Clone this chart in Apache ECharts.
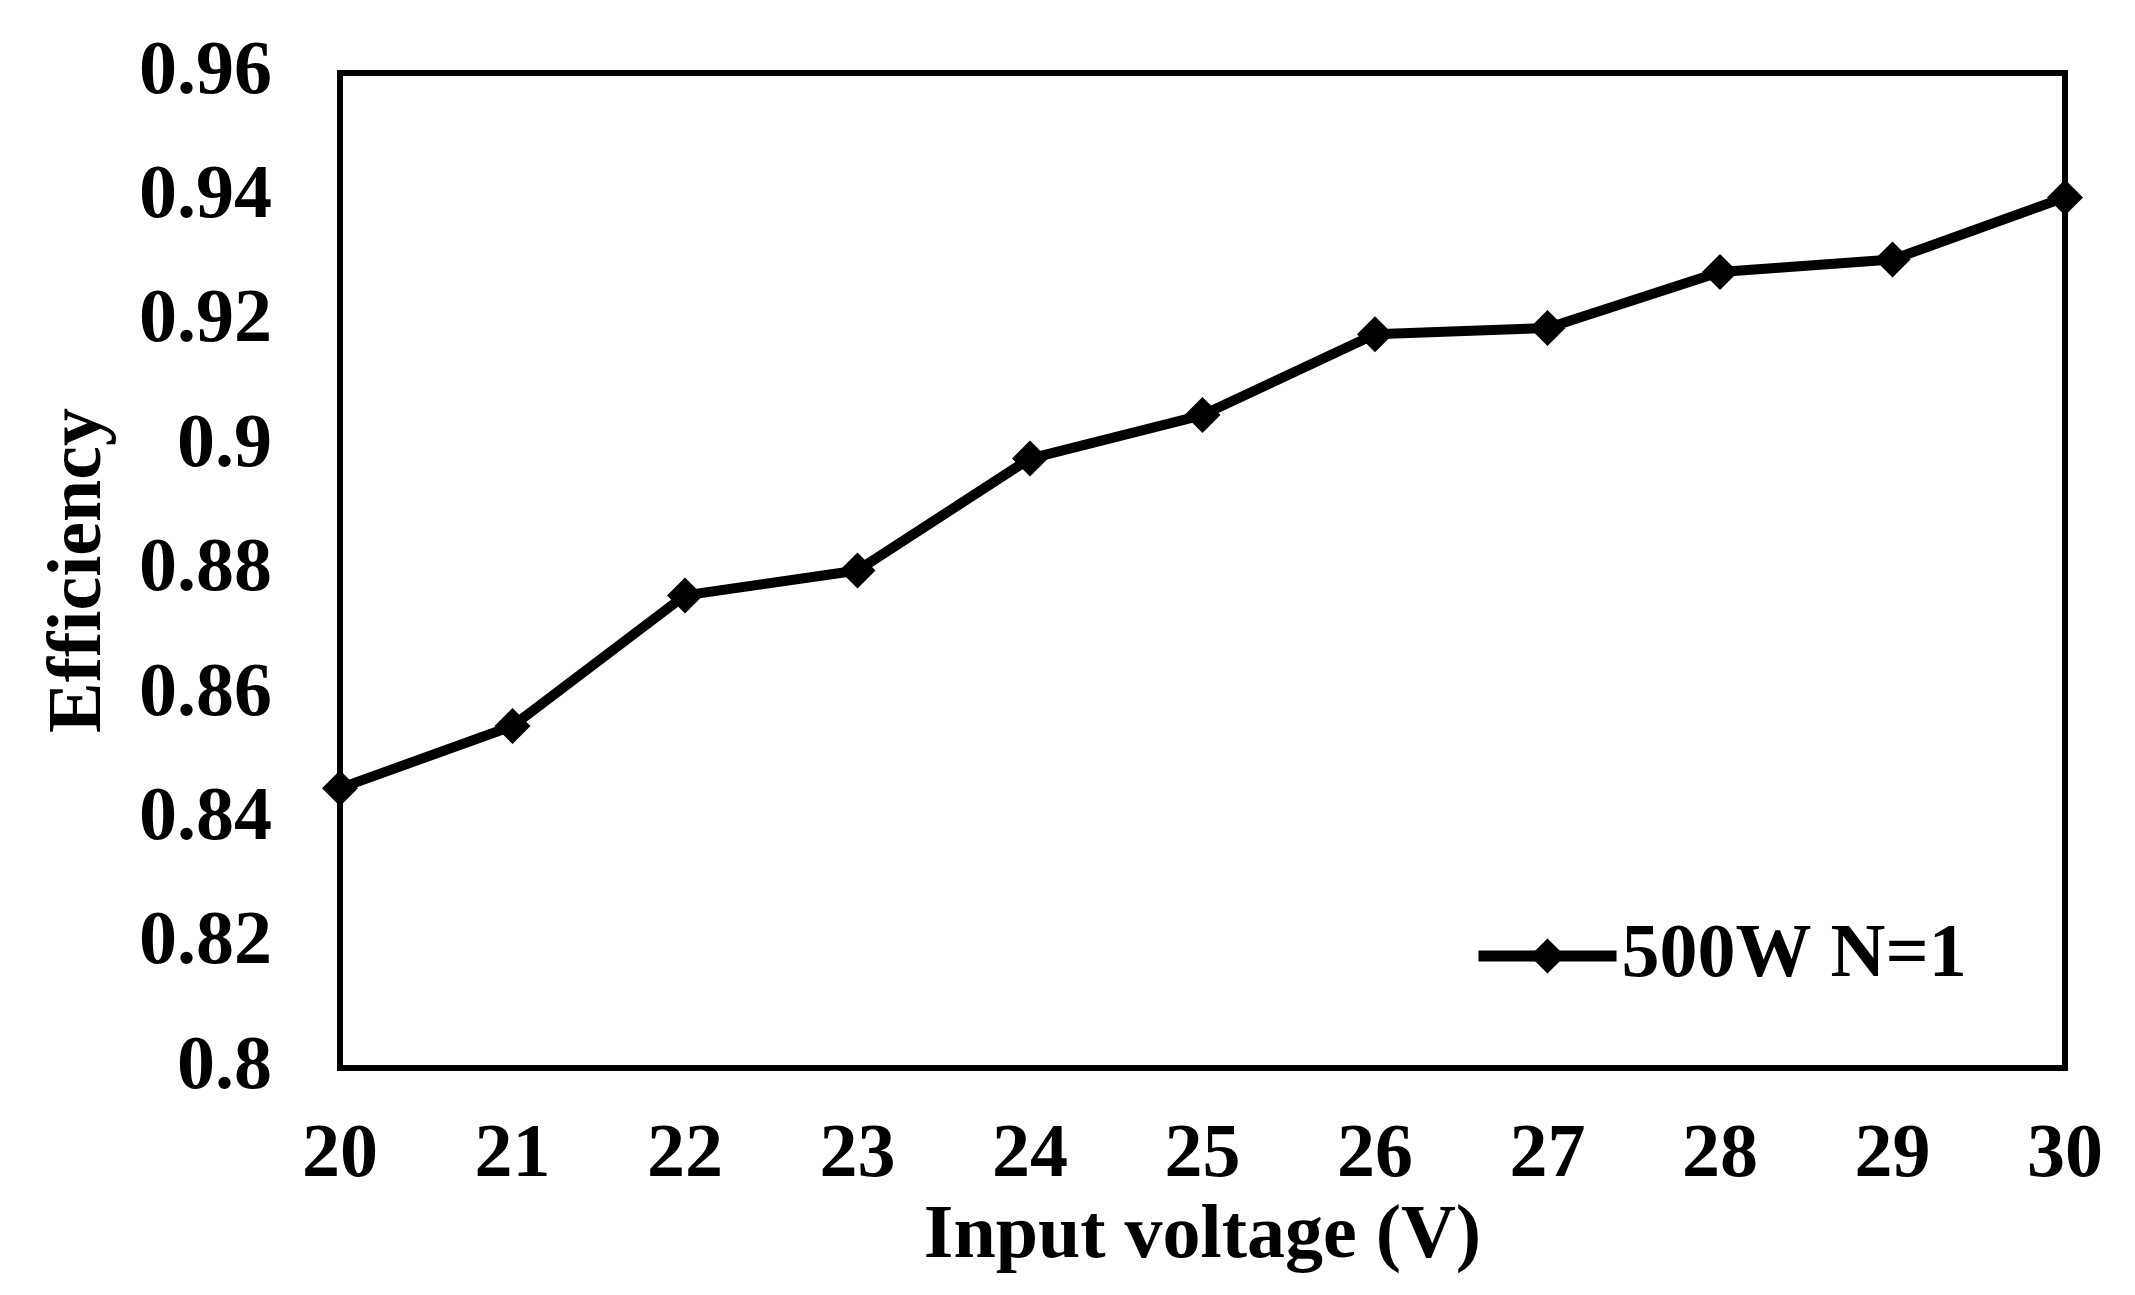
<!DOCTYPE html>
<html>
<head>
<meta charset="utf-8">
<script src="https://cdn.jsdelivr.net/npm/echarts@6/dist/echarts.min.js"></script>
<style>
html,body{margin:0;padding:0;background:#fff;}
#chart{width:2135px;height:1295px;}
</style>
</head>
<body>
<div id="chart"></div>
<script>
// input voltage (V)
var voltages = ['20','21','22','23','24','25','26','27','28','29','30'];
// efficiency, 500W N=1
var efficiency = [0.845,0.855,0.876,0.880,0.898,0.905,0.918,0.919,0.928,0.930,0.940];
var seriesName = '500W N=1';

var fontFam = '"Liberation Serif","Times New Roman",serif';

var chart = echarts.init(document.getElementById('chart'));
var opt = {
	backgroundColor:'#fff',
	animation:false,
	textStyle:{fontFamily:fontFam},
	grid:{
		left:340,
		top:73,
		right:70,
		bottom:227,
		show:true,
		borderColor:'#000',
		borderWidth:6
	},
	legend:{
		left:1468,
		top:913,
		itemWidth:138,
		itemHeight:44,
		itemGap:5,
		data:[seriesName],
		lineStyle:{width:11,color:'#000'},
		textStyle:{fontFamily:fontFam,fontWeight:'bold',fontSize:76,color:'#000'}
	},
	xAxis:{
		type:'category',
		boundaryGap:false,
		data:voltages,
		name:'Input voltage (V)',
		nameLocation:'middle',
		nameGap:130,
		nameTextStyle:{fontFamily:fontFam,fontWeight:'bold',fontSize:76,color:'#000'},
		axisLine:{show:false},
		axisTick:{show:false},
		splitLine:{show:false},
		axisLabel:{margin:50,fontFamily:fontFam,fontWeight:'bold',fontSize:76,color:'#000'}
	},
	yAxis:{
		type:'value',
		min:0.8,
		max:0.96,
		interval:0.02,
		name:'Efficiency',
		nameLocation:'middle',
		nameGap:222,
		nameRotate:90,
		nameTextStyle:{fontFamily:fontFam,fontWeight:'bold',fontSize:76,color:'#000'},
		axisLine:{show:false},
		axisTick:{show:false},
		splitLine:{show:false},
		axisLabel:{
			margin:68,
			fontFamily:fontFam,fontWeight:'bold',fontSize:76,color:'#000',
			formatter:function(v){ return String(parseFloat(v.toFixed(2))); }
		}
	},
	series:[{
		name:seriesName,
		type:'line',
		data:efficiency,
		symbol:'diamond',
		symbolSize:36,
		lineStyle:{color:'#000',width:10},
		itemStyle:{color:'#000'}
	}]
};
chart.setOption(opt);
</script>
</body>
</html>
